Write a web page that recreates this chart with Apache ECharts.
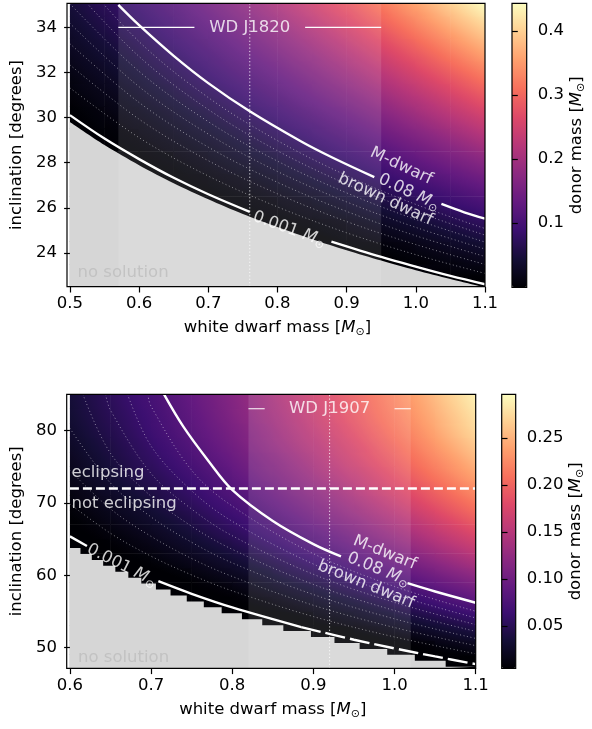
<!DOCTYPE html>
<html><head><meta charset="utf-8">
<script src="https://cdn.jsdelivr.net/npm/echarts@6.0.0/dist/echarts.min.js"></script>
<style>html,body{margin:0;padding:0;background:#fff}#c{width:592px;height:729px}</style>
</head><body><div id="c"></div>
<script>
// ---------------- DATA ----------------
// Top panel (WD J1820): cell centres and donor mass per cell
const topX = [0.525,0.575,0.625,0.675,0.725,0.775,0.825,0.875,0.925,0.975,1.025,1.075];
const topY = [23,24,25,26,27,28,29,30,31,32,33,34,35];
const topM = [
 [0,0,0,0,0,0,0,0,0,0,0,0.002],
 [0,0,0,0,0,0,0,0,0,0.005,0.015,0.026],
 [0,0,0,0,0,0,0,0.005,0.016,0.027,0.041,0.056],
 [0,0,0,0,0,0.004,0.013,0.025,0.039,0.054,0.071,0.089],
 [0,0,0,0.001,0.008,0.019,0.033,0.048,0.065,0.083,0.103,0.124],
 [0,0,0.002,0.011,0.024,0.038,0.055,0.073,0.092,0.114,0.137,0.160],
 [0,0.003,0.013,0.026,0.041,0.059,0.078,0.099,0.121,0.145,0.170,0.197],
 [0.003,0.013,0.026,0.042,0.060,0.080,0.102,0.125,0.150,0.177,0.205,0.234],
 [0.012,0.025,0.041,0.060,0.080,0.103,0.127,0.153,0.180,0.209,0.239,0.271],
 [0.022,0.038,0.057,0.078,0.101,0.125,0.152,0.180,0.210,0.241,0.274,0.308],
 [0.034,0.052,0.073,0.096,0.121,0.148,0.177,0.207,0.240,0.273,0.309,0.346],
 [0.046,0.067,0.089,0.115,0.142,0.171,0.202,0.235,0.270,0.306,0.344,0.383],
 [0.058,0.081,0.106,0.133,0.163,0.194,0.228,0.263,0.299,0.338,0.378,0.420]
];
// Bottom panel (WD J1907)
const botX = [0.625,0.675,0.725,0.775,0.825,0.875,0.925,0.975,1.025,1.075];
const botY = [48,50,52,54,56,58,60,62,64,66,68,70,72,74,76,78,80,82,84];
const botM = [
 [0,0,0,0,0,0,0,0,0,0],
 [0,0,0,0,0,0,0,0,0.004,0.013],
 [0,0,0,0,0,0,0.002,0.009,0.019,0.031],
 [0,0,0,0,0,0.004,0.013,0.024,0.037,0.051],
 [0,0,0,0,0.006,0.015,0.027,0.040,0.056,0.072],
 [0,0,0,0.006,0.016,0.028,0.042,0.058,0.075,0.093],
 [0,0,0.005,0.015,0.027,0.042,0.057,0.075,0.093,0.113],
 [0,0.004,0.013,0.025,0.039,0.055,0.072,0.091,0.111,0.133],
 [0.001,0.010,0.021,0.035,0.051,0.068,0.087,0.107,0.129,0.152],
 [0.006,0.016,0.029,0.045,0.062,0.080,0.100,0.122,0.145,0.169],
 [0.011,0.023,0.037,0.054,0.072,0.092,0.114,0.136,0.160,0.186],
 [0.016,0.029,0.045,0.063,0.082,0.103,0.125,0.149,0.175,0.201],
 [0.021,0.036,0.052,0.071,0.091,0.113,0.136,0.162,0.188,0.215],
 [0.026,0.042,0.059,0.078,0.100,0.122,0.147,0.172,0.200,0.228],
 [0.030,0.047,0.065,0.085,0.107,0.130,0.156,0.182,0.210,0.239],
 [0.034,0.051,0.070,0.091,0.114,0.138,0.163,0.190,0.219,0.249],
 [0.038,0.055,0.075,0.096,0.119,0.144,0.170,0.198,0.227,0.258],
 [0.041,0.058,0.078,0.100,0.124,0.149,0.176,0.204,0.233,0.264],
 [0.043,0.061,0.081,0.103,0.127,0.153,0.180,0.208,0.238,0.270]
];

// "no solution" boundaries
const topEdgeX = [0.5,0.55,0.6,0.65,0.7,0.75,0.8,0.85,0.9,0.95,1.0,1.05,1.1];
const topEdgeY = [29.80,28.78,27.89,27.09,26.38,25.73,25.15,24.61,24.12,23.66,23.23,22.84,22.47];
const botEdgeX = [0.6,0.613,0.627,0.641,0.656,0.672,0.688,0.706,0.724,0.744,0.765,0.787,0.812,0.837,0.863,0.897,0.926,0.957,0.991,1.025,1.063,1.1];
const botEdgeY = [63.76,62.94,62.12,61.30,60.48,59.66,58.84,58.02,57.20,56.38,55.56,54.74,53.92,53.10,52.28,51.46,50.64,49.82,49.00,48.18,47.36,47.36];

// 0.08 Msun contour (two pieces, label gap) and 0.001 Msun contour
const top008aX = [0.57,0.60,0.65,0.70,0.76,0.835,0.88,0.94];
const top008aY = [35.0,34.1,32.74,31.53,30.28,28.93,28.22,27.36];
const top008bX = [1.037,1.07,1.1];
const top008bY = [26.17,25.8,25.52];
const top0001aX = [0.5,0.55,0.6,0.65,0.7,0.76];
const top0001aY = [30.11,29.07,28.16,27.33,26.60,25.82];
const top0001bX = [0.878,0.95,1.0,1.05,1.1];
const top0001bY = [24.50,23.82,23.39,22.98,22.61];

const bot008aX = [0.716,0.74,0.77,0.8,0.85,0.9,0.934];
const bot008aY = [85.0,80.5,75.9,71.8,67.5,64.3,62.6];
const bot008bX = [1.016,1.05,1.1];
const bot008bY = [58.9,57.75,56.2];
const bot0001aX = [0.6,0.621];
const bot0001aY = [65.37,64.03];
const bot0001bX = [0.709,0.75,0.8,0.885];
const bot0001bY = [59.18,57.44,55.56,52.84];
const bot0001cX = [0.885,0.95,1.0,1.05,1.1];
const bot0001cY = [52.84,51.09,49.89,48.78,47.72];

// dotted contours 0.01 ... 0.07 Msun
const topDotX = [0.5,0.6,0.7,0.8,0.9,1.0,1.1];
const topDotY = [
 [31.32,29.11,27.41,26.04,24.89,23.92,23.09],
 [32.34,29.93,28.09,26.62,25.39,24.37,23.49],
 [33.28,30.67,28.69,27.13,25.84,24.76,23.84],
 [34.18,31.37,29.27,27.61,26.26,25.13,24.17],
 [35.05,32.05,29.82,28.07,26.66,25.48,24.48],
 [35.90,32.71,30.36,28.53,27.05,25.83,24.79],
 [36.75,33.37,30.89,28.98,27.43,26.15,25.08]
];
const botDot = [
 [[0.6,69.85],[0.65,65.8],[0.7,62.63],[0.75,60.04],[0.8,57.84],[0.9,54.29],[1.0,51.47],[1.1,49.15]],
 [[0.6,74.5],[0.65,69.17],[0.7,65.37],[0.75,62.31],[0.8,59.83],[0.9,55.85],[1.0,52.77],[1.1,50.27]],
 [[0.6,80.3],[0.65,72.74],[0.7,68.05],[0.75,64.55],[0.8,61.71],[0.9,57.33],[1.0,53.97],[1.1,51.27]],
 [[0.616,85],[0.65,76.85],[0.7,70.91],[0.75,66.77],[0.8,63.58],[0.9,58.73],[1.0,55.12],[1.1,52.24]],
 [[0.644,85],[0.65,82.8],[0.7,74.06],[0.75,69.14],[0.8,65.46],[0.9,60.13],[1.0,56.24],[1.1,53.18]],
 [[0.671,85],[0.7,77.85],[0.75,71.67],[0.8,67.45],[0.9,61.55],[1.0,57.33],[1.1,54.1]],
 [[0.696,85],[0.7,83.34],[0.75,74.5],[0.8,69.56],[0.9,62.98],[1.0,58.45],[1.1,55.02]]
];

// object bands: [left, centre, right], label height
const topBand = [0.57, 0.76, 0.95]; const topBandY = 34;
const botBand = [0.82, 0.92, 1.02]; const botBandY = 83;
const eclipseI = 72;

// tick labels
const topYTicks = [24,26,28,30,32,34];
const botYTicks = [50,60,70,80];
const topCbTicks = [0.1,0.2,0.3,0.4];
const botCbTicks = [0.05,0.10,0.15,0.20,0.25];

// annotation text anchors
const topAnn = [
 {x:0.979,y:27.85,f:'{t|M-dwarf}',rot:-25},
 {x:0.990,y:26.69,f:'{t|0.08 }{m|M}{s|⊙}',rot:-25},
 {x:0.956,y:26.37,f:'{t|brown dwarf}',rot:-25},
 {x:0.817,y:25.05,f:'{t|0.001 }{m|M}{s|⊙}',rot:-20},
 {x:0.76,y:34.0,f:'{t|WD J1820}',rot:0},
 {x:0.511,y:23.11,f:'{g|no solution}',rot:0,align:'left'}
];
const botAnn = [
 {x:0.988,y:63.11,f:'{t|M-dwarf}',rot:-22},
 {x:0.980,y:60.79,f:'{t|0.08 }{m|M}{s|⊙}',rot:-22},
 {x:0.965,y:58.71,f:'{t|brown dwarf}',rot:-22},
 {x:0.664,y:61.35,f:'{t|0.001 }{m|M}{s|⊙}',rot:-27},
 {x:0.92,y:83.0,f:'{t|WD J1907}',rot:0},
 {x:0.602,y:74.2,f:'{t|eclipsing}',rot:0,align:'left'},
 {x:0.602,y:69.9,f:'{t|not eclipsing}',rot:0,align:'left'},
 {x:0.610,y:48.6,f:'{g|no solution}',rot:0,align:'left'}
];

// ---------------- STYLE / LAYOUT ----------------
const FONT = 'DejaVu Sans';
const FS = 16.5;
const GRAY = '#d6d6d6';
const MAGMA = ['#000004','#140e36','#3b0f70','#641a80','#8c2981','#b73779','#de4968','#f7705c','#fe9f6d','#fecf92','#fcfdbf'];
const TOPMIN = 0, TOPMAX = 0.443, BOTMIN = 0.005, BOTMAX = 0.2965;
const G0 = {left:67, top:3.3, width:418, height:283.4};
const G1 = {left:66.7, top:394.3, width:409, height:274};
const C0 = {left:512, top:3.3, width:14.7, height:284};
const C1 = {left:501.7, top:394.3, width:14, height:274};

const MAG_RGB = MAGMA.map(h=>[parseInt(h.slice(1,3),16),parseInt(h.slice(3,5),16),parseInt(h.slice(5,7),16)]);
function cmap(t){
  t=Math.max(0,Math.min(1,t)); const n=MAG_RGB.length-1; const f=t*n;
  const i=Math.min(Math.floor(f),n-1); const u=f-i; const a=MAG_RGB[i], b=MAG_RGB[i+1];
  return 'rgb('+Math.round(a[0]+(b[0]-a[0])*u)+','+Math.round(a[1]+(b[1]-a[1])*u)+','+Math.round(a[2]+(b[2]-a[2])*u)+')';
}
function rich(color){
  return {
    t:{fontFamily:FONT,fontSize:FS,color:color,lineHeight:20},
    m:{fontFamily:FONT,fontSize:FS,color:color,fontStyle:'italic',lineHeight:20},
    s:{fontFamily:FONT,fontSize:11,color:color,lineHeight:12,verticalAlign:'bottom'},
    g:{fontFamily:FONT,fontSize:FS,color:'#bdbdbd',lineHeight:20}
  };
}
const zip = (X,Y) => X.map((x,i)=>[x,Y[i]]);
function cells(X,Y,M){const o=[];for(let r=0;r<Y.length;r++)for(let c=0;c<X.length;c++)o.push([X[c],Y[r],M[r][c],r,c]);return o;}
// each cell is shaded across its own area, using its own value and its neighbours' values
function cellRender(M,dx,dy,vmin,vmax){
  return function(params,api){
    const x=api.value(0), y=api.value(1), r=api.value(3), c=api.value(4);
    const v=M[r][c], nr=M.length, nc=M[0].length;
    const vl=c>0?M[r][c-1]:null, vr=c<nc-1?M[r][c+1]:null;
    const vd=r>0?M[r-1][c]:null, vu=r<nr-1?M[r+1][c]:null;
    const gx=(vl!==null&&vr!==null)?(vr-vl)/2:(vr!==null?vr-v:v-vl);
    const gy=(vd!==null&&vu!==null)?(vu-vd)/2:(vu!==null?vu-v:v-vd);
    const a=api.coord([x-dx/2,y+dy/2]), b=api.coord([x+dx/2,y-dy/2]);
    const w=b[0]-a[0], h=b[1]-a[1], cx=(a[0]+b[0])/2, cy=(a[1]+b[1])/2;
    const cs=params.coordSys;
    const rect=echarts.graphic.clipRectByRect({x:a[0]-0.3,y:a[1]-0.3,width:w+0.6,height:h+0.6},{x:cs.x,y:cs.y,width:cs.width,height:cs.height});
    if(!rect) return;
    const ax=gx/w, ay=-gy/h, am=Math.hypot(ax,ay);
    const norm = val => (Math.max(0,val)-vmin)/(vmax-vmin);
    let fill;
    if(am<1e-9){ fill=cmap(norm(v)); }
    else{
      const ux=ax/am, uy=ay/am, t=Math.abs(ux)*w/2+Math.abs(uy)*h/2;
      const stops=[]; const K=8;
      for(let k=0;k<=K;k++){ const val=v+am*t*(2*k/K-1); stops.push({offset:k/K,color:cmap(norm(val))}); }
      fill={type:'linear',x:cx-ux*t,y:cy-uy*t,x2:cx+ux*t,y2:cy+uy*t,colorStops:stops,global:true};
    }
    return {type:'rect',shape:rect,style:{fill:fill}};
  };
}
function line(ai,data,ls,extra){
  return Object.assign({type:'line',xAxisIndex:ai,yAxisIndex:ai,data:data,symbol:'none',silent:true,
    lineStyle:ls,z:5,clip:true},extra||{});
}
const WHITE = {color:'#ffffff',width:2.4};
const DOT = {color:'rgba(255,255,255,0.55)',width:0.9,type:[1,2.6]};
const SM = {smooth:0.35};

function xAx(gi,min,max,name){
  return {type:'value',gridIndex:gi,min:min,max:max,interval:0.1,name:name,nameLocation:'middle',nameGap:31,
    nameTextStyle:{fontFamily:FONT,fontSize:FS,color:'#000',rich:rich('#000')},
    axisLine:{show:false},axisTick:{show:true,length:5.8,lineStyle:{color:'#000',width:1.2}},
    axisLabel:{fontFamily:FONT,fontSize:FS,color:'#000',margin:9,formatter:v=>v.toFixed(1)},
    splitLine:{show:false},z:10};
}
function yAx(gi,min,max,ticks,name,opts){
  const o = opts||{};
  return {type:'value',gridIndex:gi,min:min,max:max,position:o.pos||'left',name:name,nameLocation:'middle',
    nameGap:o.gap||42,nameRotate:90,
    nameTextStyle:{fontFamily:FONT,fontSize:FS,color:'#000',rich:rich('#000')},
    axisLine:{show:false},
    axisTick:{show:true,length:5.8,lineStyle:{color:'#000',width:1.2},customValues:ticks},
    axisLabel:{fontFamily:FONT,fontSize:FS,color:'#000',margin:o.margin||13,customValues:ticks,
      formatter:o.fmt||(v=>String(Math.round(v)))},
    splitLine:{show:false},z:10};
}
function ann(ai,list){
  return {type:'scatter',xAxisIndex:ai,yAxisIndex:ai,symbolSize:1,silent:true,z:8,
    itemStyle:{color:'rgba(0,0,0,0)'},
    data:list.map(a=>({value:[a.x,a.y],label:{show:true,position:'inside',rotate:a.rot,
      align:a.align||'center',verticalAlign:'middle',formatter:a.f,rich:rich('#fff')}}))};
}

const series = [
  {type:'custom',xAxisIndex:0,yAxisIndex:0,renderItem:cellRender(topM,0.05,1,TOPMIN,TOPMAX),data:cells(topX,topY,topM),z:1,silent:true},
  {type:'custom',xAxisIndex:1,yAxisIndex:1,renderItem:cellRender(botM,0.05,2,BOTMIN,BOTMAX),data:cells(botX,botY,botM),z:1,silent:true},
  // no-solution areas
  line(0,zip(topEdgeX,topEdgeY),{width:0},{smooth:0.3,areaStyle:{color:GRAY,opacity:1,origin:'start'},z:2}),
  line(1,zip(botEdgeX,botEdgeY),{width:0},{step:'end',areaStyle:{color:GRAY,opacity:1,origin:'start'},z:2}),
  // bands + centre dotted line
  line(0,[[topBand[1],22.5],[topBand[1],35.07]],{color:'rgba(255,255,255,0.85)',width:1,type:[1.2,2.2]},
    {z:4,markArea:{silent:true,z:3,itemStyle:{color:'rgba(255,255,255,0.11)'},data:[[{xAxis:topBand[0]},{xAxis:topBand[2]}]]}}),
  line(1,[[botBand[1],47.14],[botBand[1],85]],{color:'rgba(255,255,255,0.85)',width:1,type:[1.2,2.2]},
    {z:4,markArea:{silent:true,z:3,itemStyle:{color:'rgba(255,255,255,0.11)'},data:[[{xAxis:botBand[0]},{xAxis:botBand[2]}]]}}),
  // WD label bars
  line(0,[[topBand[0],topBandY],[topBand[1]-0.08,topBandY]],{color:'#fff',width:1.2}),
  line(0,[[topBand[1]+0.08,topBandY],[topBand[2],topBandY]],{color:'#fff',width:1.2}),
  line(1,[[botBand[0],botBandY],[botBand[1]-0.08,botBandY]],{color:'#fff',width:1.2}),
  line(1,[[botBand[1]+0.08,botBandY],[botBand[2],botBandY]],{color:'#fff',width:1.2}),
  // eclipse limit
  line(1,[[0.6,eclipseI],[1.1,eclipseI]],{color:'#fff',width:2.5,type:[9,4]}),
  // main contours
  line(0,zip(top008aX,top008aY),WHITE,SM),
  line(0,zip(top008bX,top008bY),WHITE,SM),
  line(0,zip(top0001aX,top0001aY),WHITE,SM),
  line(0,zip(top0001bX,top0001bY),WHITE,SM),
  line(1,zip(bot008aX,bot008aY),WHITE,SM),
  line(1,zip(bot008bX,bot008bY),WHITE,SM),
  line(1,zip(bot0001aX,bot0001aY),WHITE),
  line(1,zip(bot0001bX,bot0001bY),WHITE,SM),
  line(1,zip(bot0001cX,bot0001cY),{color:'#fff',width:2.4,type:[20,5]},SM),
  ann(0,topAnn),
  ann(1,botAnn)
];
topDotY.forEach(Y=>series.push(line(0,zip(topDotX,Y),DOT,{smooth:0.35,z:4})));
botDot.forEach(d=>series.push(line(1,d,DOT,{smooth:0.35,z:4})));

const border = g => ({type:'rect',shape:{x:g.left,y:g.top,width:g.width,height:g.height},
  style:{fill:'none',stroke:'#000',lineWidth:1.2},z:100,silent:true});

const option = {
  animation:false,
  backgroundColor:'#fff',
  textStyle:{fontFamily:FONT},
  grid:[
    Object.assign({containLabel:false},G0),
    Object.assign({containLabel:false},G1),
    Object.assign({containLabel:false},C0),
    Object.assign({containLabel:false},C1)
  ],
  xAxis:[
    xAx(0,0.5,1.1,'white dwarf mass [{m|M}{s|⊙}]'),
    xAx(1,0.6,1.1,'white dwarf mass [{m|M}{s|⊙}]'),
    {type:'value',gridIndex:2,show:false,min:0,max:1},
    {type:'value',gridIndex:3,show:false,min:0,max:1}
  ],
  yAxis:[
    yAx(0,22.5,35.07,topYTicks,'inclination [degrees]'),
    yAx(1,47.14,85,botYTicks,'inclination [degrees]'),
    yAx(2,TOPMIN,TOPMAX,topCbTicks,'donor mass [{m|M}{s|⊙}]',{pos:'right',gap:40,margin:11,fmt:v=>v.toFixed(1)}),
    yAx(3,BOTMIN,BOTMAX,botCbTicks,'donor mass [{m|M}{s|⊙}]',{pos:'right',gap:50,margin:11,fmt:v=>v.toFixed(2)})
  ],
  visualMap:[
    {type:'continuous',seriesIndex:0,dimension:2,min:TOPMIN,max:TOPMAX,inRange:{color:MAGMA},calculable:false,
     orient:'vertical',left:C0.left,top:C0.top,itemWidth:C0.width,itemHeight:C0.height,padding:0,text:null,hoverLink:false},
    {type:'continuous',seriesIndex:1,dimension:2,min:BOTMIN,max:BOTMAX,inRange:{color:MAGMA},calculable:false,
     orient:'vertical',left:C1.left,top:C1.top,itemWidth:C1.width,itemHeight:C1.height,padding:0,text:null,hoverLink:false}
  ],
  graphic:[border(G0),border(G1),border(C0),border(C1)],
  series:series
};
const chart = echarts.init(document.getElementById('c'),null,{renderer:'canvas'});
chart.setOption(option);
</script>
</body></html>
